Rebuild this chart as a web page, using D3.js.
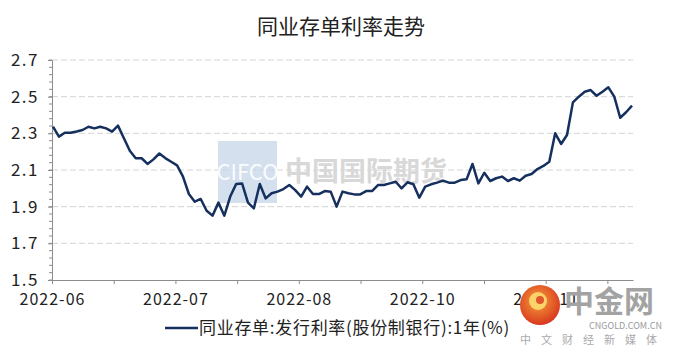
<!DOCTYPE html>
<html>
<head>
<meta charset="utf-8">
<script src="https://cdn.jsdelivr.net/npm/d3@7"></script>
<style>
  html, body { margin: 0; padding: 0; background: #fff; }
  svg { display: block; }
  text { font-family: "Noto Sans CJK SC", "Noto Sans", sans-serif; }
</style>
</head>
<body>
<div id="chart"></div>
<script>
// ---- data ----
const seriesName = "同业存单:发行利率(股份制银行):1年(%)";
const values = [
  2.336, 2.282, 2.303, 2.303, 2.310, 2.318, 2.336, 2.327, 2.336, 2.327,
  2.309, 2.342, 2.273, 2.205, 2.164, 2.164, 2.133, 2.158, 2.190, 2.165,
  2.145, 2.125, 2.064, 1.969, 1.927, 1.942, 1.878, 1.851, 1.922, 1.851,
  1.955, 2.024, 2.027, 1.922, 1.891, 2.024, 1.945, 1.973, 1.982, 1.996,
  2.018, 1.990, 1.955, 2.009, 1.969, 1.969, 1.985, 1.982, 1.900, 1.982,
  1.973, 1.967, 1.967, 1.985, 1.985, 2.018, 2.018, 2.027, 2.036, 2.000,
  2.033, 2.022, 1.949, 2.009, 2.022, 2.031, 2.042, 2.031, 2.031, 2.045,
  2.049, 2.133, 2.027, 2.085, 2.040, 2.055, 2.064, 2.040, 2.055, 2.042,
  2.069, 2.078, 2.105, 2.122, 2.145, 2.300, 2.242, 2.291, 2.469, 2.500,
  2.527, 2.536, 2.505, 2.527, 2.551, 2.500, 2.385, 2.415, 2.451
];
const yTicks = [1.5, 1.7, 1.9, 2.1, 2.3, 2.5, 2.7];
const xTickLabels = ["2022-06", "", "2022-07", "", "2022-08", "", "2022-10", "", "2022-11", ""];
const titleText = "同业存单利率走势";

// ---- layout ----
const W = 680, H = 356;
const mLeft = 52, mRight = 633, mTop = 60, mBottom = 280;

const svg = d3.select("#chart").append("svg").attr("width", W).attr("height", H);

const x = d3.scaleLinear().domain([0, values.length - 1]).range([mLeft + 1, mRight - 1]);
const xt = d3.scaleLinear().domain([0, 9.415]).range([mLeft, mRight]);
const y = d3.scaleLinear().domain([1.5, 2.7]).range([mBottom, mTop]);

// title
svg.append("text").attr("x", 341).attr("y", 34).attr("text-anchor", "middle")
  .attr("font-size", 21).attr("fill", "#222").text(titleText);

// grid
svg.append("g").selectAll("line").data(yTicks.filter(d => d > 1.5)).join("line")
  .attr("x1", mLeft).attr("x2", mRight)
  .attr("y1", d => y(d)).attr("y2", d => y(d))
  .attr("stroke", "#d4d4d4").attr("stroke-width", 1).attr("stroke-dasharray", "6,3");

// watermark
const wm = svg.append("g");
wm.append("rect").attr("x", 218).attr("y", 141).attr("width", 59).attr("height", 62)
  .attr("fill", "#c7d5ea").attr("opacity", 0.75);
wm.append("text").attr("x", 247.5).attr("y", 180).attr("text-anchor", "middle")
  .attr("font-family", "Liberation Serif, serif").attr("font-size", 22)
  .attr("fill", "#fff").attr("opacity", 0.9).text("CIFCO");
wm.append("text").attr("x", 285).attr("y", 181)
  .attr("font-size", 27).attr("font-weight", 700).attr("fill", "#d8d8d8").text("中国国际期货");

// y axis
const yMinor = d3.range(0, 31).map(i => 1.5 + i * 0.04);
svg.append("g").selectAll("line").data(yMinor).join("line")
  .attr("x1", mLeft - 3).attr("x2", mLeft)
  .attr("y1", d => y(d)).attr("y2", d => y(d))
  .attr("stroke", "#8c8c8c");
const yAxis = svg.append("g").attr("transform", `translate(${mLeft},0)`)
  .call(d3.axisLeft(y).tickValues(yTicks).tickFormat(d3.format(".1f")).tickSize(4).tickPadding(9));
yAxis.select(".domain").attr("stroke", "#8c8c8c");
yAxis.selectAll(".tick line").attr("stroke", "#8c8c8c");
yAxis.selectAll("text").attr("font-size", 17).attr("fill", "#222")
  .attr("letter-spacing", "1.5px").attr("font-family", "Liberation Sans, Arial, sans-serif");

// x axis
const xAxis = svg.append("g").attr("transform", `translate(0,${mBottom})`)
  .call(d3.axisBottom(xt).tickValues(d3.range(10)).tickFormat(i => xTickLabels[i]).tickSize(4).tickSizeOuter(0).tickPadding(10));
xAxis.select(".domain").attr("stroke", "#8c8c8c");
xAxis.selectAll(".tick line").attr("stroke", "#8c8c8c");
xAxis.selectAll("text").attr("font-size", 16).attr("fill", "#222")
  .attr("letter-spacing", "1px").attr("font-family", "Liberation Sans, Arial, sans-serif");

// line
svg.append("path").datum(values)
  .attr("fill", "none").attr("stroke", "#15305e").attr("stroke-width", 2.5)
  .attr("stroke-linejoin", "round")
  .attr("d", d3.line().x((d, i) => x(i)).y(d => y(d)));

// legend
svg.append("line").attr("x1", 165).attr("x2", 198).attr("y1", 328).attr("y2", 328)
  .attr("stroke", "#15305e").attr("stroke-width", 2.5);
svg.append("text").attr("x", 199).attr("y", 334).attr("font-size", 17).attr("fill", "#222")
  .attr("letter-spacing", "0.7px").text(seriesName);

// cngold watermark logo
const defs = svg.append("defs");
const grad = defs.append("radialGradient").attr("id", "lg").attr("cx", "45%").attr("cy", "40%").attr("r", "60%");
grad.append("stop").attr("offset", "0%").attr("stop-color", "#f7a13a");
grad.append("stop").attr("offset", "100%").attr("stop-color", "#d8391f");
const lg = svg.append("g");
lg.append("circle").attr("cx", 540).attr("cy", 305).attr("r", 20).attr("fill", "url(#lg)");
lg.append("circle").attr("cx", 538).attr("cy", 301).attr("r", 9).attr("fill", "#fbd36a");
lg.append("circle").attr("cx", 540).attr("cy", 300).attr("r", 4).attr("fill", "#e0552a");
lg.append("text").attr("x", 564).attr("y", 312).attr("font-size", 30).attr("font-weight", 700)
  .attr("fill", "#a3a3a3").text("中金网");
lg.append("text").attr("x", 589).attr("y", 329).attr("font-size", 9).attr("fill", "#9a9a9a")
  .attr("font-family", "Liberation Sans, Arial, sans-serif").text("CNGOLD.COM.CN");
lg.append("text").attr("x", 520).attr("y", 344).attr("font-size", 11).attr("fill", "#aaa")
  .attr("letter-spacing", "10px").text("中文财经新媒体");
</script>
</body>
</html>
